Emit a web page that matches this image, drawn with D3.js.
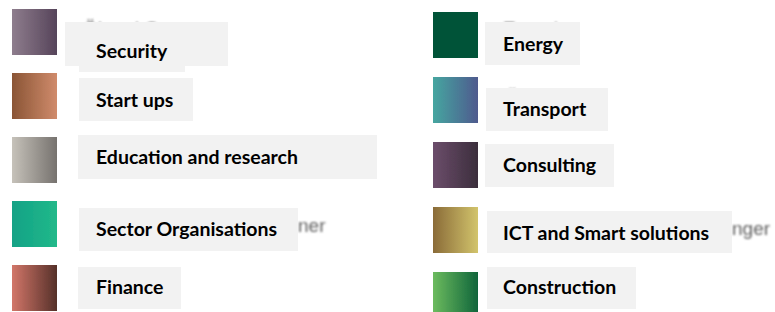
<!DOCTYPE html>
<html>
<head>
<meta charset="utf-8">
<script src="https://cdn.jsdelivr.net/npm/d3@7"></script>
<style>
  body { margin: 0; background: #fff; }
  svg { display: block; }
</style>
</head>
<body>
<div id="chart"></div>
<script>
// legend entries, left and right column
var leftLabels = ["Security", "Start ups", "Education and research", "Sector Organisations", "Finance"];
var rightLabels = ["Energy", "Transport", "Consulting", "ICT and Smart solutions", "Construction"];

// gradient stops for each swatch [left colour, right colour]
var leftColors = [["#8e7d8d", "#56445a"], ["#8a5535", "#d08b6c"], ["#c6c2ba", "#76726e"], ["#12a286", "#22b98a"], ["#d27669", "#553029"]];
var rightColors = [["#045339", "#045339"], ["#45a6a0", "#4f5a8e"], ["#6c4d6b", "#3b2e3c"], ["#8a6b38", "#d2c46c"], ["#6cbb5e", "#0f653b"]];

// what is left visible of the old labels behind the boxes
var hiddenLeft = ["Öl und Gas", "", "", "ner", ""];
var hiddenRight = ["Energie", "Öl", "", "nger", ""];

var W = 775, H = 312;

// layout per row: text baseline offset from swatch top, box top / bottom offset from baseline, box edges,
// and where the old label sits (hx, hy from swatch top)
var leftLayout = [
  {dy: 49, top: 36, bot: 8, right: 228, left: 65, hx: 83, hy: 26},
  {dy: 34, top: 29, bot: 14, right: 193, left: 79},
  {dy: 27, top: 29, bot: 15, right: 377, left: 78},
  {dy: 35, top: 28, bot: 15, right: 298, left: 79, hx: 298, hy: 31},
  {dy: 29, top: 27, bot: 15, right: 181, left: 78}
];
var rightLayout = [
  {dy: 39, top: 29, bot: 14, right: 580, left: 485, hx: 503, hy: 23},
  {dy: 39, top: 28, bot: 15, right: 608, left: 486, hx: 505, hy: 27},
  {dy: 30, top: 28, bot: 15, right: 614, left: 485},
  {dy: 33, top: 29, bot: 13, right: 732, left: 487, hx: 732, hy: 28},
  {dy: 22, top: 27, bot: 15, right: 636, left: 487}
];

var svg = d3.select("#chart").append("svg")
  .attr("width", W)
  .attr("height", H);

var defs = svg.append("defs");
defs.append("filter").attr("id", "soft")
  .attr("x", "-10%").attr("y", "-10%").attr("width", "120%").attr("height", "120%")
  .append("feGaussianBlur").attr("stdDeviation", 0.7);
defs.append("filter").attr("id", "blurText")
  .attr("x", "-10%").attr("y", "-30%").attr("width", "120%").attr("height", "160%")
  .append("feGaussianBlur").attr("stdDeviation", 0.8);

//rows are spread evenly down the picture
var yLeft = d3.scaleLinear().domain([0, 4]).range([9, 265]);
var yRight = d3.scaleLinear().domain([0, 4]).range([12, 272]);

function column(name, labels, colors, hidden, layout, x, y, textX) {
  var g = svg.append("g").attr("class", name);

  colors.forEach(function(c, i) {
    var grad = defs.append("linearGradient").attr("id", name + "Grad" + i)
      .attr("x1", "0%").attr("x2", "100%").attr("y1", "0%").attr("y2", "0%");
    grad.append("stop").attr("offset", "0%").attr("stop-color", c[0]);
    grad.append("stop").attr("offset", "100%").attr("stop-color", c[1]);
  });

  g.selectAll("rect.swatch")
    .data(labels)
    .enter()
    .append("rect")
      .attr("class", "swatch")
      .attr("x", x)
      .attr("y", function(d, i) { return y(i); })
      .attr("width", 45)
      .attr("height", 46)
      .attr("fill", function(d, i) { return "url(#" + name + "Grad" + i + ")"; })
      .attr("filter", "url(#soft)");

  // old grey labels, mostly hidden
  g.selectAll("text.old")
    .data(hidden.filter(function(d) { return d !== ""; }).map(function(d) { return {t: d, i: hidden.indexOf(d)}; }))
    .enter()
    .append("text")
      .attr("class", "old")
      .attr("x", function(d) { return layout[d.i].hx; })
      .attr("y", function(d) { return y(d.i) + layout[d.i].hy; })
      .attr("font-family", "Liberation Sans, Arial, sans-serif")
      .attr("font-size", 19)
      .attr("fill", "#5e5e5e")
      .attr("filter", "url(#blurText)")
      .text(function(d) { return d.t; });

  g.selectAll("rect.box")
    .data(labels)
    .enter()
    .append("rect")
      .attr("class", "box")
      .attr("x", function(d, i) { return layout[i].left; })
      .attr("y", function(d, i) { return y(i) + layout[i].dy - layout[i].top; })
      .attr("width", function(d, i) { return layout[i].right - layout[i].left; })
      .attr("height", function(d, i) { return layout[i].top + layout[i].bot; })
      .attr("fill", "#f2f2f2");

  g.selectAll("text.label")
    .data(labels)
    .enter()
    .append("text")
      .attr("class", "label")
      .attr("x", textX)
      .attr("y", function(d, i) { return y(i) + layout[i].dy; })
      .attr("font-family", "Lato, sans-serif")
      .attr("font-weight", "bold")
      .attr("font-size", 19.5)
      .attr("fill", "#000")
      .text(function(d) { return d; });

  return g;
}

column("left", leftLabels, leftColors, hiddenLeft, leftLayout, 12, yLeft, 96);
column("right", rightLabels, rightColors, hiddenRight, rightLayout, 433, yRight, 503);

// the Security box is made of two overlapping boxes
svg.select("g.left").insert("rect", "text.label")
  .attr("x", 79)
  .attr("y", yLeft(0) + 30)
  .attr("width", 106)
  .attr("height", 33)
  .attr("fill", "#f2f2f2");
</script>
</body>
</html>
